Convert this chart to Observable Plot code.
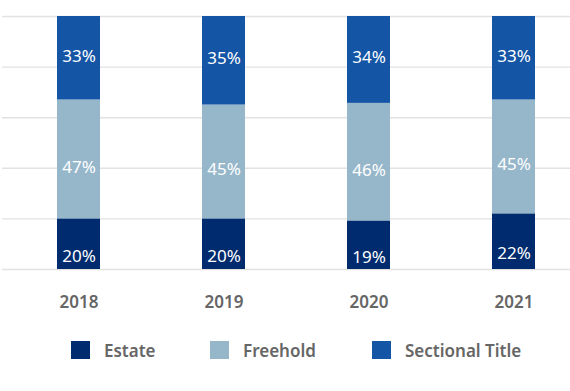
<!DOCTYPE html>
<html><head><meta charset="utf-8">
<script src="https://cdn.jsdelivr.net/npm/d3@7"></script>
<script src="https://cdn.jsdelivr.net/npm/@observablehq/plot@0.6"></script>
<style>
body{margin:0;background:#fff;font-family:"Noto Sans",sans-serif;}
#chart svg{display:block;}
#chart svg g[aria-label="x-axis tick label"] text{font-weight:600;}
#legend{position:relative;height:18px;margin-top:21px;color:#666;font-size:17px;font-weight:600;}
#legend .item{position:absolute;top:0;display:flex;align-items:center;height:18px;}
#legend .sw{display:inline-block;width:19px;height:18px;margin-right:14px;}
</style></head><body><div id="chart"></div><div id="legend"></div>
<script>
const years = ["2018","2019","2020","2021"];
const seriesNames = ["Estate","Freehold","Sectional Title"];
const estate = [20,20,19,22];
const freehold = [47,45,46,45];
const sectional = [33,35,34,33];
const colors = ["#002b6e","#96b6ca","#1455a6"];
const gridTicks = [0,0.2,0.4,0.6,0.8,1];

const data = [];
years.forEach((y,i)=>{
  data.push({year:y,type:"Estate",value:estate[i]});
  data.push({year:y,type:"Freehold",value:freehold[i]});
  data.push({year:y,type:"Sectional Title",value:sectional[i]});
});

const stackOpts = {x:"year", y:"value", z:"type", order: seriesNames, offset:"normalize"};
const label = (name, dy) => Plot.text(data, Plot.stackY({...stackOpts,
  text: d => d.type === name ? d.value + "%" : "", fill:"white", fontSize:17, dy}));

const chart = Plot.plot({
  width:570, height:320, marginTop:16, marginBottom:51, marginLeft:2, marginRight:0,
  style:{fontFamily:"Noto Sans", background:"white", color:"#666"},
  x:{domain:years, range:[22,570], paddingInner:0.705, paddingOuter:0.233, label:null},
  y:{domain:[0,1], axis:null},
  color:{domain:seriesNames, range:colors},
  marks:[
    Plot.ruleY(gridTicks, {stroke:"#e2e2e2", strokeWidth:1.4}),
    Plot.barY(data, Plot.stackY({...stackOpts, fill:"type"})),
    label("Estate", 12),
    label("Freehold", 8),
    label("Sectional Title", -2),
    Plot.axisX({tickSize:0, tickPadding:26, fontSize:17, fontWeight:600, label:null})
  ]
});
document.getElementById("chart").appendChild(chart);

const legendLeft = [71,210,372];
const legend = document.getElementById("legend");
seriesNames.forEach((n,i)=>{
  const it = document.createElement("div"); it.className="item"; it.style.left = legendLeft[i]+"px";
  const sw = document.createElement("span"); sw.className="sw"; sw.style.background=colors[i];
  const t = document.createElement("span"); t.textContent=n;
  it.appendChild(sw); it.appendChild(t); legend.appendChild(it);
});
</script></body></html>
